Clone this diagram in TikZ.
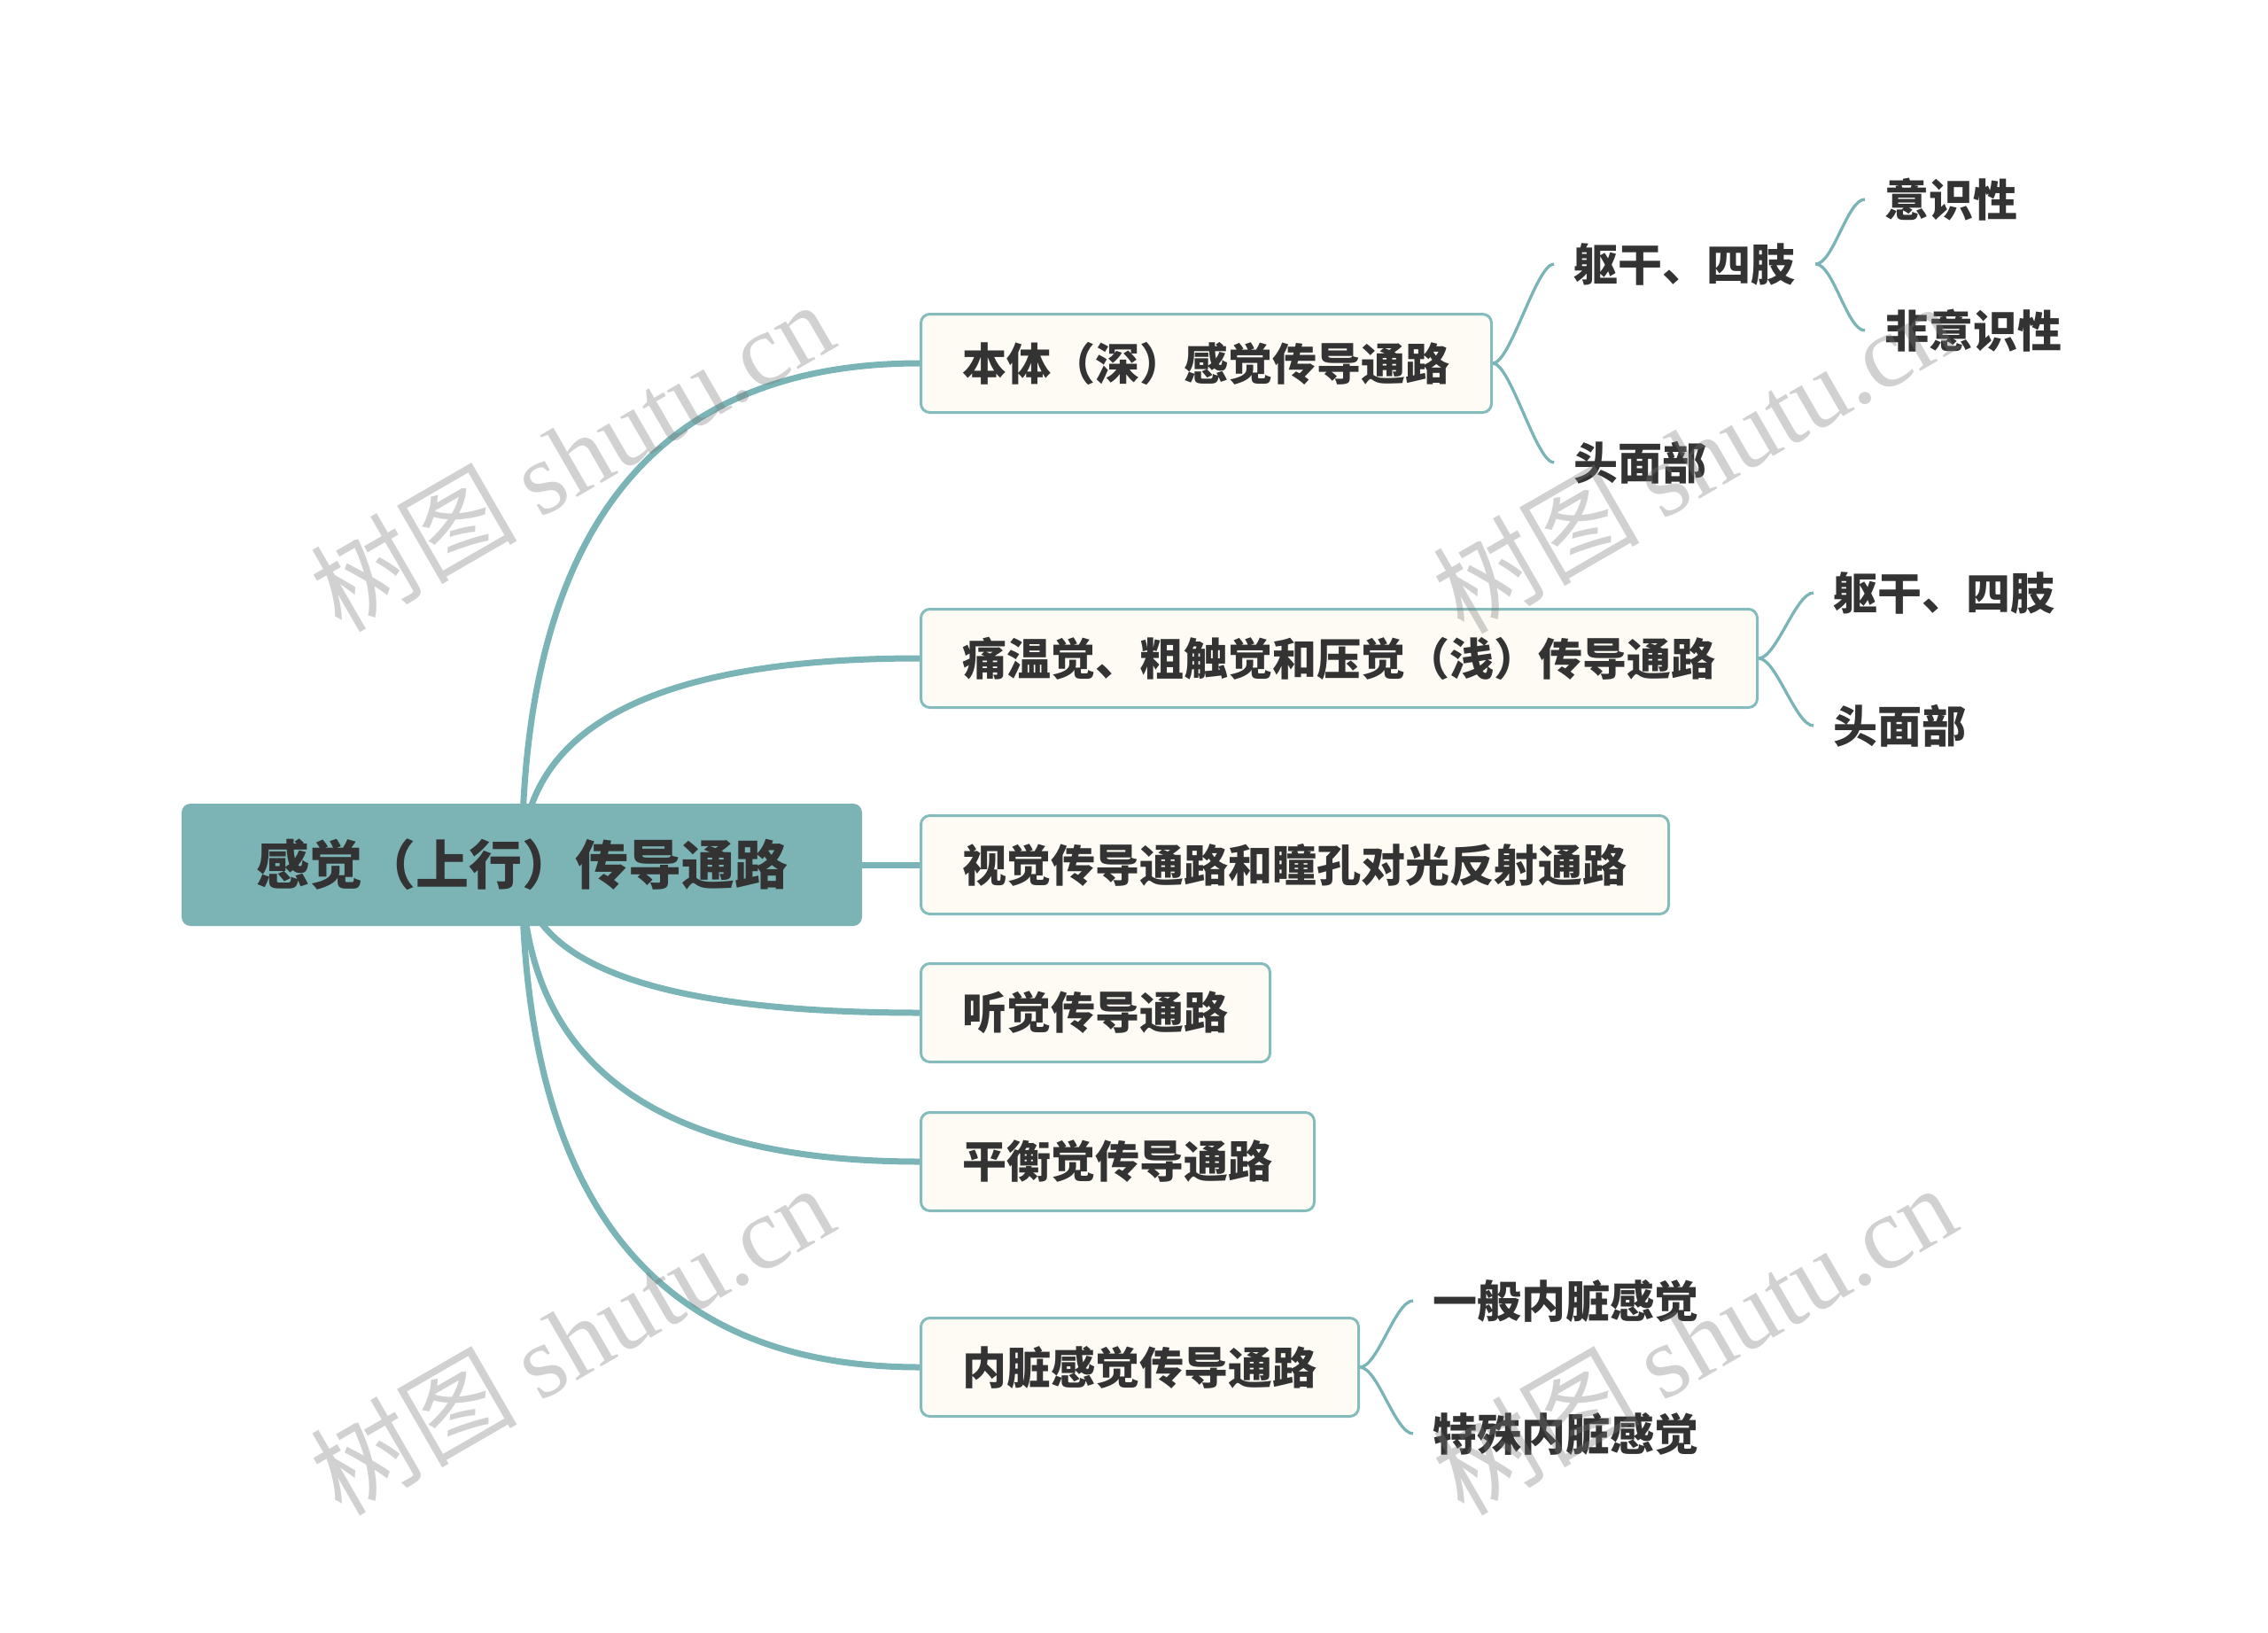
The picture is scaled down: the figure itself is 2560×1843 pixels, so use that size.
\documentclass[tikz,border=0pt]{standalone}
\usepackage{fontspec}
\newfontfamily\cjk{Noto Sans CJK SC}
\newfontfamily\wmlat{Liberation Serif}
\usetikzlibrary{backgrounds,calc}
\definecolor{tealline}{RGB}{122,180,182}
\definecolor{rootfill}{RGB}{124,180,182}
\definecolor{boxline}{RGB}{132,188,190}
\definecolor{boxfill}{RGB}{253,251,243}
\definecolor{txt}{RGB}{51,51,51}
\definecolor{wmgray}{RGB}{120,120,120}
\begin{document}
\begin{tikzpicture}[x=0.3pt,y=-0.3pt,
  rootnode/.style={rectangle, rounded corners=3pt, fill=rootfill, inner sep=0pt,
    minimum width=230.4pt, minimum height=41.4pt,
    font=\cjk\bfseries\fontsize{18pt}{18pt}\selectfont, text=txt},
  topicbox/.style={rectangle, rounded corners=3pt, fill=boxfill, draw=boxline,
    line width=0.9pt, inner xsep=14.1pt, inner ysep=0pt, minimum height=33.3pt,
    anchor=west, font=\cjk\bfseries\fontsize{15pt}{15pt}\selectfont, text=txt},
  leaf/.style={inner xsep=6.6pt, inner ysep=2pt, anchor=west,
    font=\cjk\bfseries\fontsize{15pt}{15pt}\selectfont, text=txt},
  mainline/.style={draw=tealline, line width=2.1pt},
  subline/.style={draw=tealline, line width=1pt},
  wmark/.style={text=wmgray, text opacity=0.34, rotate=30, inner sep=0pt,
    font=\cjk\fontsize{35pt}{35pt}\selectfont}
]
\useasboundingbox (0,0) rectangle (2560,1843);

% root
\node[rootnode] (root) at (589,976) {感觉（上行）传导通路};

% main topics
\node[topicbox] (b1) at (1038,410)  {本体（深）感觉传导通路};
\node[topicbox] (b2) at (1038,743)  {痛温觉、粗触觉和压觉（浅）传导通路};
\node[topicbox] (b3) at (1038,976)  {视觉传导通路和瞳孔对光反射通路};
\node[topicbox] (b4) at (1038,1143) {听觉传导通路};
\node[topicbox] (b5) at (1038,1311) {平衡觉传导通路};
\node[topicbox] (b6) at (1038,1543) {内脏感觉传导通路};

% leaves
\node[leaf] (a1)  at (1754,298)  {躯干、四肢};
\node[leaf] (a2)  at (1754,522)  {头面部};
\node[leaf] (a11) at (2105,225)  {意识性};
\node[leaf] (a12) at (2105,373)  {非意识性};
\node[leaf] (c1)  at (2047,669)  {躯干、四肢};
\node[leaf] (c2)  at (2047,819)  {头面部};
\node[leaf] (d1)  at (1595,1468) {一般内脏感觉};
\node[leaf] (d2)  at (1595,1618) {特殊内脏感觉};

\begin{scope}[on background layer]
  \foreach \b in {b1,b2,b4,b5,b6}{
    \draw[mainline] (root.center)
      .. controls ($(root.center)!0.667!(root.center |- \b.west)$)
      and ($(\b.west)!0.667!(root.center |- \b.west)$) .. (\b.west);
  }
  \draw[mainline] (root.center) -- (b3.west);

  \draw[subline] (b1.east) .. controls +(20,0) and +(-20,0) .. (a1.west);
  \draw[subline] (b1.east) .. controls +(20,0) and +(-20,0) .. (a2.west);
  \draw[subline] (a1.east) .. controls +(20,0) and +(-20,0) .. (a11.west);
  \draw[subline] (a1.east) .. controls +(20,0) and +(-20,0) .. (a12.west);
  \draw[subline] (b2.east) .. controls +(20,0) and +(-20,0) .. (c1.west);
  \draw[subline] (b2.east) .. controls +(20,0) and +(-20,0) .. (c2.west);
  \draw[subline] (b6.east) .. controls +(20,0) and +(-20,0) .. (d1.west);
  \draw[subline] (b6.east) .. controls +(20,0) and +(-20,0) .. (d2.west);
\end{scope}

% watermarks
\node[wmark] (w1) at (645,514)  {树图 {\wmlat shutu.cn}};
\node[wmark] (w2) at (1912,516) {树图 {\wmlat shutu.cn}};
\node[wmark] (w3) at (645,1511) {树图 {\wmlat shutu.cn}};
\node[wmark] (w4) at (1912,1511) {树图 {\wmlat shutu.cn}};
\end{tikzpicture}
\end{document}
